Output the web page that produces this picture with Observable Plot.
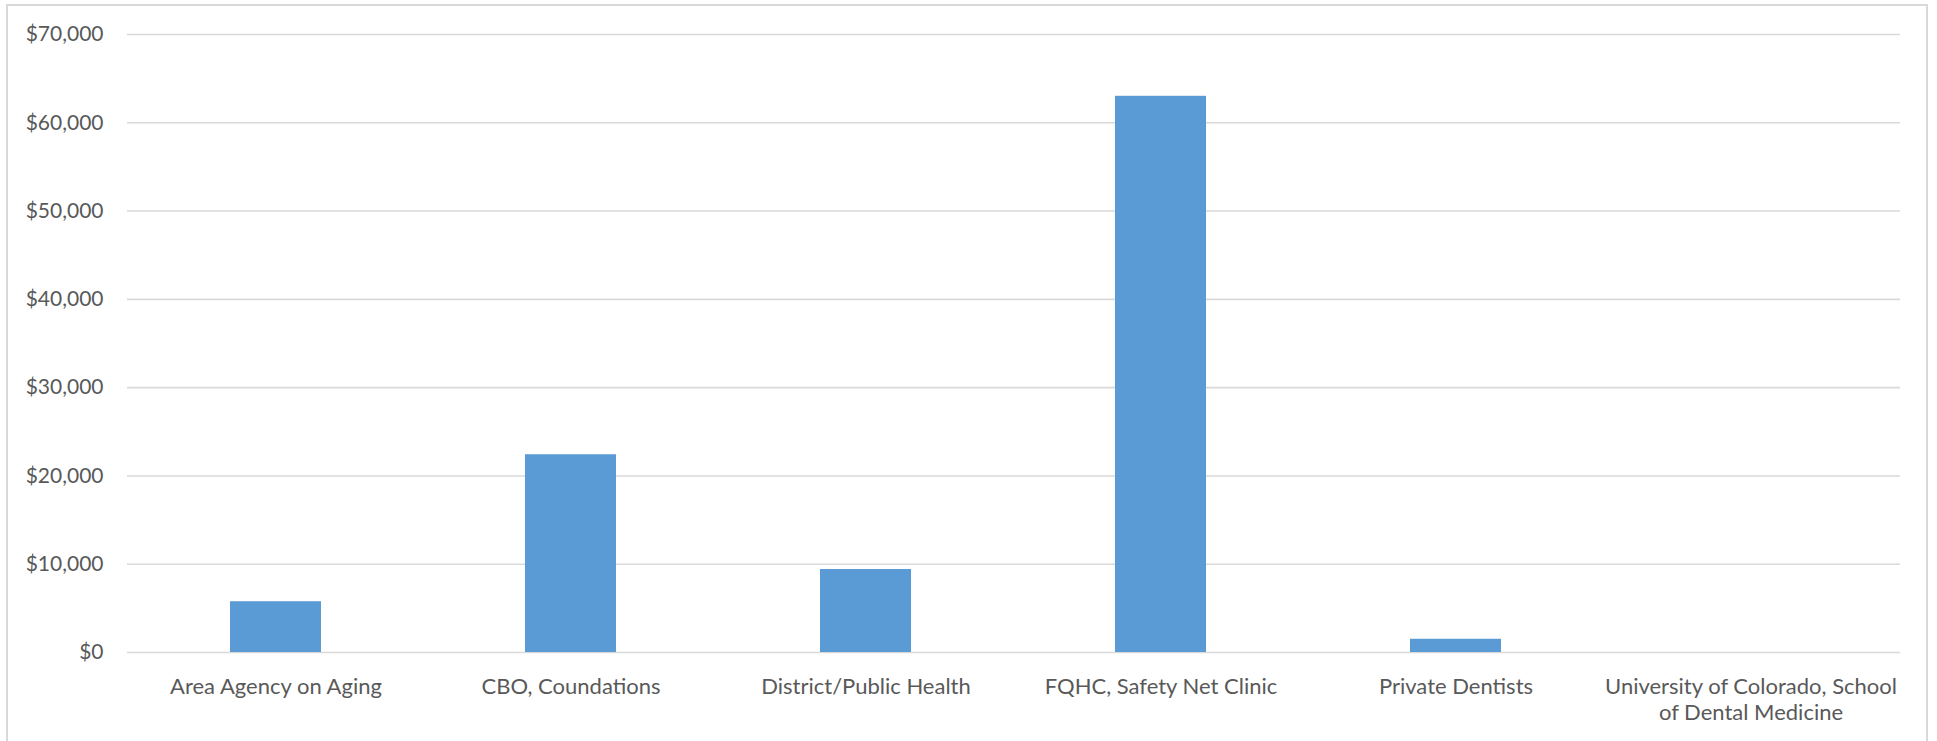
<!DOCTYPE html>
<html>
<head>
<meta charset="utf-8">
<script src="https://cdn.jsdelivr.net/npm/d3@7"></script>
<script src="https://cdn.jsdelivr.net/npm/@observablehq/plot@0.6"></script>
<style>
  html, body { margin: 0; padding: 0; background: #fff; }
  #wrap { position: relative; width: 1937px; height: 741px; overflow: hidden; }
  #frame { position: absolute; left: 6px; top: 4px; width: 1922px; height: 800px; border: 2px solid #d9d9d9; box-sizing: border-box; }
  #chart { position: absolute; left: 0; top: 0; }
</style>
</head>
<body>
<div id="wrap"><div id="frame"></div><div id="chart"></div></div>
<script>
const categories = [
  "Area Agency on Aging",
  "CBO, Coundations",
  "District/Public Health",
  "FQHC, Safety Net Clinic",
  "Private Dentists",
  "University of Colorado, School of Dental Medicine"
];
const tickLabels = [
  "Area Agency on Aging",
  "CBO, Coundations",
  "District/Public Health",
  "FQHC, Safety Net Clinic",
  "Private Dentists",
  "University of Colorado, School\nof Dental Medicine"
];
const values = [5750, 22400, 9400, 63000, 1500, 0];
const yTicks = [0, 10000, 20000, 30000, 40000, 50000, 60000, 70000];

const data = categories.map((c, i) => ({category: c, value: values[i]}));
const labelOf = new Map(categories.map((c, i) => [c, tickLabels[i]]));

const chart = Plot.plot({
  width: 1937,
  height: 741,
  marginLeft: 127,
  marginRight: 37,
  marginTop: 34,
  marginBottom: 89,
  style: {fontFamily: "Lato, sans-serif", fontSize: "21px", color: "#595959", background: "transparent"},
  x: {domain: categories, paddingInner: 0.69, paddingOuter: 0.345, label: null},
  y: {domain: [0, 70000], label: null},
  marks: [
    Plot.gridY(yTicks, {stroke: "#d9d9d9", strokeOpacity: 1, strokeWidth: 1.6}),
    Plot.barY(data, {x: "category", y: "value", fill: "#5b9bd5"}),
    Plot.axisY(yTicks, {tickSize: 0, tickPadding: 24, fill: "#595959", fontSize: 21,
      tickFormat: v => "$" + d3.format(",")(v)}),
    Plot.axisX({tickSize: 0, tickPadding: 22, fill: "#595959", fontSize: 22, lineHeight: 1.22,
      tickFormat: c => labelOf.get(c)})
  ]
});
document.getElementById("chart").appendChild(chart);
</script>
</body>
</html>
